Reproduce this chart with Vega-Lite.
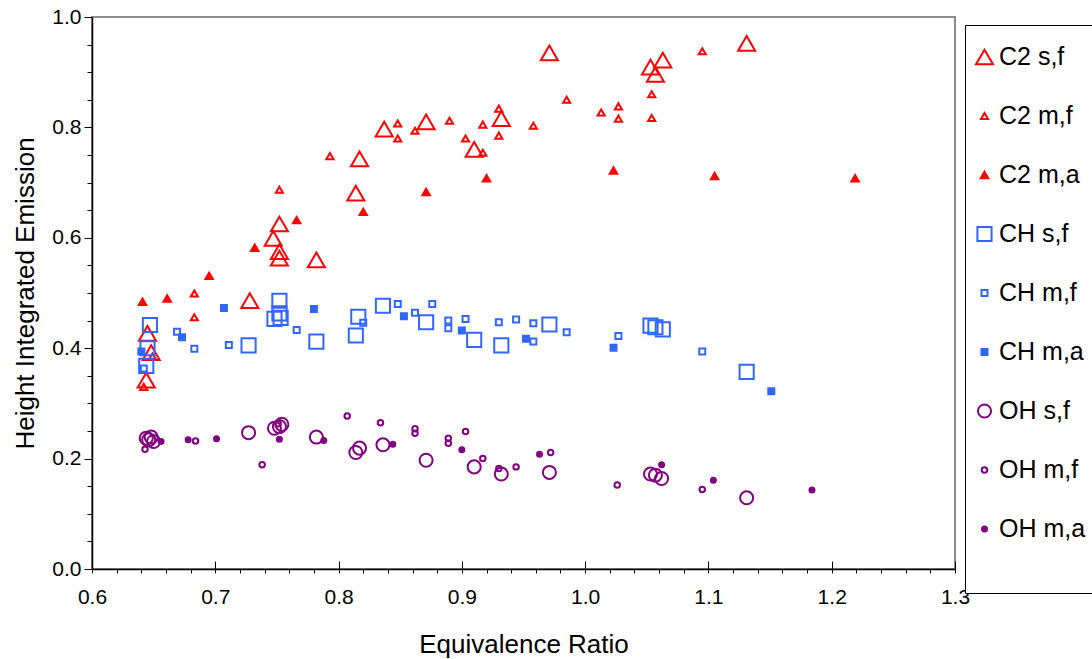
{
  "$schema": "https://vega.github.io/schema/vega-lite/v6.json",
  "width": 863,
  "height": 552,
  "autosize": "none",
  "padding": {"left": 92, "top": 17, "right": 137, "bottom": 90},
  "background": "white",
  "config": {
    "font": "Liberation Sans",
    "view": {"stroke": "#8c8c8c", "strokeWidth": 2},
    "axis": {
      "grid": false,
      "domainColor": "black",
      "tickColor": "black",
      "labelColor": "black",
      "titleColor": "black",
      "labelFont": "Liberation Sans",
      "titleFont": "Liberation Sans",
      "titleFontWeight": "normal",
      "labelFlush": false,
      "labelOverlap": false
    }
  },
  "data": {
    "values": [
      {"s": "C2 s,f", "x": 0.645, "y": 0.427},
      {"s": "C2 s,f", "x": 0.648, "y": 0.392},
      {"s": "C2 s,f", "x": 0.644, "y": 0.342},
      {"s": "C2 s,f", "x": 0.728, "y": 0.486},
      {"s": "C2 s,f", "x": 0.747, "y": 0.599},
      {"s": "C2 s,f", "x": 0.752, "y": 0.625},
      {"s": "C2 s,f", "x": 0.752, "y": 0.575},
      {"s": "C2 s,f", "x": 0.752, "y": 0.563},
      {"s": "C2 s,f", "x": 0.782, "y": 0.560},
      {"s": "C2 s,f", "x": 0.814, "y": 0.681},
      {"s": "C2 s,f", "x": 0.817, "y": 0.743},
      {"s": "C2 s,f", "x": 0.837, "y": 0.797},
      {"s": "C2 s,f", "x": 0.871, "y": 0.810},
      {"s": "C2 s,f", "x": 0.910, "y": 0.760},
      {"s": "C2 s,f", "x": 0.932, "y": 0.816},
      {"s": "C2 s,f", "x": 0.971, "y": 0.935},
      {"s": "C2 s,f", "x": 1.053, "y": 0.909},
      {"s": "C2 s,f", "x": 1.057, "y": 0.896},
      {"s": "C2 s,f", "x": 1.063, "y": 0.922},
      {"s": "C2 s,f", "x": 1.131, "y": 0.952},

      {"s": "C2 m,f", "x": 0.642, "y": 0.330},
      {"s": "C2 m,f", "x": 0.649, "y": 0.385},
      {"s": "C2 m,f", "x": 0.683, "y": 0.499},
      {"s": "C2 m,f", "x": 0.683, "y": 0.456},
      {"s": "C2 m,f", "x": 0.752, "y": 0.687},
      {"s": "C2 m,f", "x": 0.793, "y": 0.748},
      {"s": "C2 m,f", "x": 0.848, "y": 0.807},
      {"s": "C2 m,f", "x": 0.848, "y": 0.780},
      {"s": "C2 m,f", "x": 0.862, "y": 0.794},
      {"s": "C2 m,f", "x": 0.890, "y": 0.812},
      {"s": "C2 m,f", "x": 0.903, "y": 0.780},
      {"s": "C2 m,f", "x": 0.917, "y": 0.754},
      {"s": "C2 m,f", "x": 0.917, "y": 0.805},
      {"s": "C2 m,f", "x": 0.930, "y": 0.834},
      {"s": "C2 m,f", "x": 0.930, "y": 0.785},
      {"s": "C2 m,f", "x": 0.958, "y": 0.803},
      {"s": "C2 m,f", "x": 0.985, "y": 0.850},
      {"s": "C2 m,f", "x": 1.013, "y": 0.827},
      {"s": "C2 m,f", "x": 1.027, "y": 0.838},
      {"s": "C2 m,f", "x": 1.027, "y": 0.816},
      {"s": "C2 m,f", "x": 1.054, "y": 0.860},
      {"s": "C2 m,f", "x": 1.054, "y": 0.817},
      {"s": "C2 m,f", "x": 1.095, "y": 0.938},

      {"s": "C2 m,a", "x": 0.641, "y": 0.484},
      {"s": "C2 m,a", "x": 0.661, "y": 0.490},
      {"s": "C2 m,a", "x": 0.695, "y": 0.531},
      {"s": "C2 m,a", "x": 0.732, "y": 0.582},
      {"s": "C2 m,a", "x": 0.766, "y": 0.632},
      {"s": "C2 m,a", "x": 0.820, "y": 0.647},
      {"s": "C2 m,a", "x": 0.871, "y": 0.683},
      {"s": "C2 m,a", "x": 0.920, "y": 0.708},
      {"s": "C2 m,a", "x": 1.023, "y": 0.722},
      {"s": "C2 m,a", "x": 1.105, "y": 0.712},
      {"s": "C2 m,a", "x": 1.219, "y": 0.708},

      {"s": "CH s,f", "x": 0.647, "y": 0.442},
      {"s": "CH s,f", "x": 0.645, "y": 0.400},
      {"s": "CH s,f", "x": 0.644, "y": 0.368},
      {"s": "CH s,f", "x": 0.727, "y": 0.405},
      {"s": "CH s,f", "x": 0.748, "y": 0.453},
      {"s": "CH s,f", "x": 0.752, "y": 0.486},
      {"s": "CH s,f", "x": 0.752, "y": 0.463},
      {"s": "CH s,f", "x": 0.753, "y": 0.455},
      {"s": "CH s,f", "x": 0.782, "y": 0.412},
      {"s": "CH s,f", "x": 0.814, "y": 0.423},
      {"s": "CH s,f", "x": 0.816, "y": 0.457},
      {"s": "CH s,f", "x": 0.836, "y": 0.477},
      {"s": "CH s,f", "x": 0.871, "y": 0.447},
      {"s": "CH s,f", "x": 0.910, "y": 0.415},
      {"s": "CH s,f", "x": 0.932, "y": 0.405},
      {"s": "CH s,f", "x": 0.971, "y": 0.443},
      {"s": "CH s,f", "x": 1.053, "y": 0.441},
      {"s": "CH s,f", "x": 1.057, "y": 0.438},
      {"s": "CH s,f", "x": 1.063, "y": 0.434},
      {"s": "CH s,f", "x": 1.131, "y": 0.357},

      {"s": "CH m,f", "x": 0.642, "y": 0.363},
      {"s": "CH m,f", "x": 0.669, "y": 0.430},
      {"s": "CH m,f", "x": 0.683, "y": 0.399},
      {"s": "CH m,f", "x": 0.711, "y": 0.406},
      {"s": "CH m,f", "x": 0.766, "y": 0.433},
      {"s": "CH m,f", "x": 0.820, "y": 0.446},
      {"s": "CH m,f", "x": 0.848, "y": 0.480},
      {"s": "CH m,f", "x": 0.862, "y": 0.464},
      {"s": "CH m,f", "x": 0.876, "y": 0.480},
      {"s": "CH m,f", "x": 0.889, "y": 0.450},
      {"s": "CH m,f", "x": 0.889, "y": 0.436},
      {"s": "CH m,f", "x": 0.903, "y": 0.453},
      {"s": "CH m,f", "x": 0.930, "y": 0.447},
      {"s": "CH m,f", "x": 0.944, "y": 0.452},
      {"s": "CH m,f", "x": 0.958, "y": 0.445},
      {"s": "CH m,f", "x": 0.958, "y": 0.412},
      {"s": "CH m,f", "x": 0.985, "y": 0.429},
      {"s": "CH m,f", "x": 1.027, "y": 0.422},
      {"s": "CH m,f", "x": 1.095, "y": 0.394},

      {"s": "CH m,a", "x": 0.640, "y": 0.394},
      {"s": "CH m,a", "x": 0.673, "y": 0.420},
      {"s": "CH m,a", "x": 0.707, "y": 0.473},
      {"s": "CH m,a", "x": 0.780, "y": 0.471},
      {"s": "CH m,a", "x": 0.853, "y": 0.458},
      {"s": "CH m,a", "x": 0.900, "y": 0.432},
      {"s": "CH m,a", "x": 0.952, "y": 0.417},
      {"s": "CH m,a", "x": 1.023, "y": 0.401},
      {"s": "CH m,a", "x": 1.151, "y": 0.322},

      {"s": "OH s,f", "x": 0.644, "y": 0.237},
      {"s": "OH s,f", "x": 0.646, "y": 0.234},
      {"s": "OH s,f", "x": 0.648, "y": 0.239},
      {"s": "OH s,f", "x": 0.650, "y": 0.231},
      {"s": "OH s,f", "x": 0.727, "y": 0.247},
      {"s": "OH s,f", "x": 0.748, "y": 0.255},
      {"s": "OH s,f", "x": 0.752, "y": 0.258},
      {"s": "OH s,f", "x": 0.754, "y": 0.262},
      {"s": "OH s,f", "x": 0.782, "y": 0.239},
      {"s": "OH s,f", "x": 0.814, "y": 0.211},
      {"s": "OH s,f", "x": 0.817, "y": 0.219},
      {"s": "OH s,f", "x": 0.836, "y": 0.225},
      {"s": "OH s,f", "x": 0.871, "y": 0.197},
      {"s": "OH s,f", "x": 0.910, "y": 0.185},
      {"s": "OH s,f", "x": 0.932, "y": 0.172},
      {"s": "OH s,f", "x": 0.971, "y": 0.175},
      {"s": "OH s,f", "x": 1.053, "y": 0.172},
      {"s": "OH s,f", "x": 1.057, "y": 0.170},
      {"s": "OH s,f", "x": 1.062, "y": 0.164},
      {"s": "OH s,f", "x": 1.131, "y": 0.129},

      {"s": "OH m,f", "x": 0.643, "y": 0.217},
      {"s": "OH m,f", "x": 0.684, "y": 0.232},
      {"s": "OH m,f", "x": 0.738, "y": 0.189},
      {"s": "OH m,f", "x": 0.751, "y": 0.263},
      {"s": "OH m,f", "x": 0.807, "y": 0.277},
      {"s": "OH m,f", "x": 0.834, "y": 0.265},
      {"s": "OH m,f", "x": 0.862, "y": 0.254},
      {"s": "OH m,f", "x": 0.862, "y": 0.246},
      {"s": "OH m,f", "x": 0.889, "y": 0.237},
      {"s": "OH m,f", "x": 0.889, "y": 0.228},
      {"s": "OH m,f", "x": 0.903, "y": 0.249},
      {"s": "OH m,f", "x": 0.917, "y": 0.200},
      {"s": "OH m,f", "x": 0.930, "y": 0.182},
      {"s": "OH m,f", "x": 0.944, "y": 0.185},
      {"s": "OH m,f", "x": 0.972, "y": 0.211},
      {"s": "OH m,f", "x": 1.026, "y": 0.152},
      {"s": "OH m,f", "x": 1.095, "y": 0.144},

      {"s": "OH m,a", "x": 0.656, "y": 0.231},
      {"s": "OH m,a", "x": 0.678, "y": 0.234},
      {"s": "OH m,a", "x": 0.701, "y": 0.236},
      {"s": "OH m,a", "x": 0.752, "y": 0.235},
      {"s": "OH m,a", "x": 0.788, "y": 0.233},
      {"s": "OH m,a", "x": 0.844, "y": 0.226},
      {"s": "OH m,a", "x": 0.900, "y": 0.216},
      {"s": "OH m,a", "x": 0.963, "y": 0.208},
      {"s": "OH m,a", "x": 1.062, "y": 0.189},
      {"s": "OH m,a", "x": 1.104, "y": 0.161},
      {"s": "OH m,a", "x": 1.184, "y": 0.143}
    ]
  },
  "layer": [
    {
      "mark": {"type": "point", "strokeWidth": 2, "opacity": 1},
      "encoding": {
        "x": {
          "field": "x", "type": "quantitative",
          "scale": {"domain": [0.6, 1.3], "nice": false, "zero": false},
          "axis": {
            "orient": "bottom",
            "values": [0.6, 0.7, 0.8, 0.9, 1.0, 1.1, 1.2, 1.3],
            "format": ".1f",
            "tickSize": 4, "tickWidth": 1,
            "domainWidth": 1.5,
            "labelFontSize": 21, "labelPadding": 13,
            "title": "Equivalence Ratio", "titleFontSize": 26, "titlePadding": 24
          }
        },
        "y": {
          "field": "y", "type": "quantitative",
          "scale": {"domain": [0, 1], "nice": false},
          "axis": {
            "orient": "left",
            "values": [0, 0.2, 0.4, 0.6, 0.8, 1.0],
            "format": ".1f",
            "tickSize": 8, "tickWidth": 1,
            "domainWidth": 1.5,
            "labelFontSize": 21, "labelPadding": 3,
            "title": "Height Integrated Emission", "titleFontSize": 26, "titlePadding": 13
          }
        },
        "shape": {
          "field": "s", "type": "nominal",
          "scale": {
            "domain": ["C2 s,f", "C2 m,f", "C2 m,a", "CH s,f", "CH m,f", "CH m,a", "OH s,f", "OH m,f", "OH m,a"],
            "range": ["triangle-up", "triangle-up", "triangle-up", "square", "square", "square", "circle", "circle", "circle"]
          },
          "legend": {
            "title": " ", "titleOrient": "bottom", "titleFontSize": 20, "titlePadding": 12,
            "orient": "none", "legendX": 873, "legendY": 8,
            "padding": 8, "strokeColor": "black", "fillColor": "white",
            "labelFontSize": 25, "labelFont": "Liberation Sans", "labelColor": "black",
            "labelOffset": 2, "symbolOffset": -1, "rowPadding": 11, "clipHeight": 48,
            "symbolStrokeWidth": 2, "labelLimit": 0
          }
        },
        "size": {
          "field": "s", "type": "nominal",
          "scale": {
            "type": "ordinal",
            "domain": ["C2 s,f", "C2 m,f", "C2 m,a", "CH s,f", "CH m,f", "CH m,a", "OH s,f", "OH m,f", "OH m,a"],
            "range": [290, 50, 55, 200, 36, 36, 170, 30, 25]
          }
        },
        "fill": {
          "field": "s", "type": "nominal",
          "scale": {
            "domain": ["C2 s,f", "C2 m,f", "C2 m,a", "CH s,f", "CH m,f", "CH m,a", "OH s,f", "OH m,f", "OH m,a"],
            "range": ["transparent", "transparent", "#ff0000", "transparent", "transparent", "#3366ff", "transparent", "transparent", "#800080"]
          }
        },
        "stroke": {
          "field": "s", "type": "nominal",
          "scale": {
            "domain": ["C2 s,f", "C2 m,f", "C2 m,a", "CH s,f", "CH m,f", "CH m,a", "OH s,f", "OH m,f", "OH m,a"],
            "range": ["#ff0000", "#ff0000", "#ff0000", "#3366ff", "#3366ff", "#3366ff", "#800080", "#800080", "#800080"]
          }
        }
      }
    },
    {
      "mark": {"type": "point", "opacity": 0},
      "encoding": {
        "x": {
          "field": "x", "type": "quantitative",
          "axis": {
            "orient": "bottom",
            "values": [0.62, 0.64, 0.66, 0.68, 0.72, 0.74, 0.76, 0.78, 0.82, 0.84, 0.86, 0.88, 0.92, 0.94, 0.96, 0.98, 1.02, 1.04, 1.06, 1.08, 1.12, 1.14, 1.16, 1.18, 1.22, 1.24, 1.26, 1.28],
            "tickSize": 4, "tickWidth": 1, "labels": false, "domain": false, "title": null
          }
        },
        "y": {
          "field": "y", "type": "quantitative",
          "axis": {
            "orient": "left",
            "values": [0.05, 0.1, 0.15, 0.25, 0.3, 0.35, 0.45, 0.5, 0.55, 0.65, 0.7, 0.75, 0.85, 0.9, 0.95],
            "tickSize": 5, "tickWidth": 1, "labels": false, "domain": false, "title": null
          }
        }
      }
    },
    {
      "mark": {"type": "point", "opacity": 0},
      "encoding": {
        "x": {
          "field": "x", "type": "quantitative",
          "axis": {
            "orient": "bottom",
            "values": [0.7, 0.8, 0.9, 1.0, 1.1, 1.2, 1.3],
            "tickSize": -8, "tickWidth": 1, "labels": false, "domain": false, "title": null
          }
        },
        "y": {"field": "y", "type": "quantitative", "axis": null}
      }
    }
  ],
  "resolve": {"axis": {"x": "independent", "y": "independent"}}
}
